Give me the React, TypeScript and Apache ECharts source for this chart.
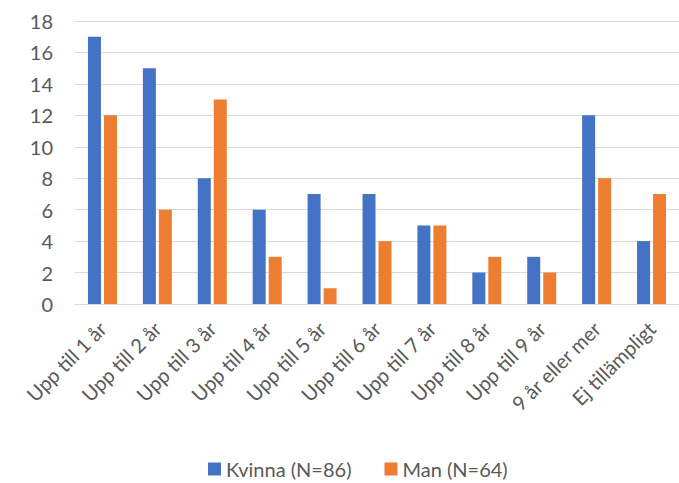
import React, { useEffect, useRef } from "react";
import * as echarts from "echarts";

const categories = [
  "Upp till 1 år",
  "Upp till 2 år",
  "Upp till 3 år",
  "Upp till 4 år",
  "Upp till 5 år",
  "Upp till 6 år",
  "Upp till 7 år",
  "Upp till 8 år",
  "Upp till 9 år",
  "9 år eller mer",
  "Ej tillämpligt",
];
const kvinna = [17, 15, 8, 6, 7, 7, 5, 2, 3, 12, 4];
const man = [12, 6, 13, 3, 1, 4, 5, 3, 2, 8, 7];
const seriesNames = ["Kvinna (N=86)", "Man (N=64)"];

export default function App() {
  const ref = useRef<HTMLDivElement>(null);
  useEffect(() => {
    if (!ref.current) return;
    const chart = echarts.init(ref.current, undefined, { renderer: "svg" });
    const font = "Lato, 'Liberation Sans', sans-serif";
    chart.setOption({
      animation: false,
      textStyle: { fontFamily: font },
      grid: { left: 75, right: -12, top: 21, bottom: 179, containLabel: false },
      legend: {
        bottom: -1,
        left: 203,
        itemWidth: 13,
        itemHeight: 13,
        itemGap: 33,
        icon: "rect",
        textStyle: { fontSize: 20, color: "#595959", fontFamily: font },
        data: seriesNames,
      },
      xAxis: {
        type: "category",
        data: categories,
        axisLine: { lineStyle: { color: "#d9d9d9", width: 1 } },
        axisTick: { show: false },
        axisLabel: {
          rotate: 45,
          interval: 0,
          fontSize: 20,
          color: "#595959",
          fontFamily: font,
          margin: 21,
        },
      },
      yAxis: {
        type: "value",
        min: 0,
        max: 18,
        interval: 2,
        axisLine: { show: false },
        axisTick: { show: false },
        splitLine: { lineStyle: { color: "#d9d9d9", width: 1 } },
        axisLabel: { fontSize: 20, color: "#595959", fontFamily: font, margin: 22 },
      },
      series: [
        {
          name: seriesNames[0],
          type: "bar",
          data: kvinna,
          barWidth: 13,
          barGap: "23%",
          itemStyle: { color: "#4472C4" },
        },
        {
          name: seriesNames[1],
          type: "bar",
          data: man,
          barWidth: 13,
          itemStyle: { color: "#ED7D31" },
        },
      ],
    });
    return () => chart.dispose();
  }, []);
  return (
    <div
      ref={ref}
      style={{ position: "fixed", left: 0, top: 0, width: 679, height: 483, background: "#fff" }}
    />
  );
}
